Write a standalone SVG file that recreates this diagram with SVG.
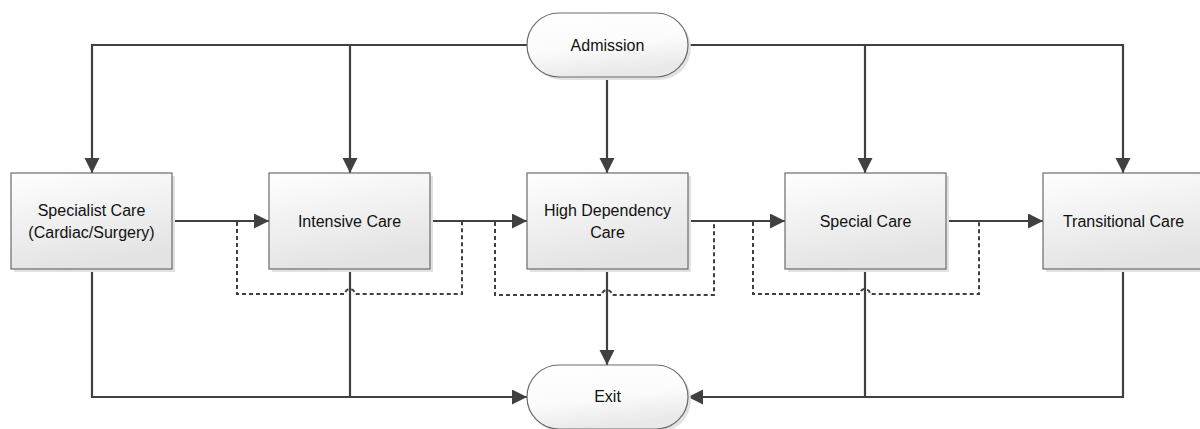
<svg xmlns="http://www.w3.org/2000/svg" width="1200" height="429" viewBox="0 0 1200 429">
<style>
.box{fill:url(#g);stroke:#6b6b6b;stroke-width:1.2}
.term{fill:url(#gt);stroke:#6b6b6b;stroke-width:1.2}
.sh{fill:#e2e2e2}
.t{font-family:"Liberation Sans",Arial,sans-serif;font-size:16px;fill:#111;text-anchor:middle}
.c{fill:none;stroke:#404040;stroke-width:2.2}
.d{fill:none;stroke:#404040;stroke-width:2;stroke-dasharray:4 3}
</style>
<defs>
<linearGradient id="g" x1="0" y1="0" x2="0.3" y2="1">
<stop offset="0" stop-color="#ffffff"/>
<stop offset="1" stop-color="#e3e3e3"/>
</linearGradient>
<linearGradient id="gt" x1="0" y1="0" x2="0.3" y2="1">
<stop offset="0" stop-color="#ffffff"/>
<stop offset="0.6" stop-color="#fbfbfb"/>
<stop offset="1" stop-color="#e9e9e9"/>
</linearGradient>
<marker id="a" markerUnits="userSpaceOnUse" markerWidth="16" markerHeight="16" refX="15" refY="7.5" orient="auto">
<path d="M0,0 L15,7.5 L0,15 z" fill="#404040"/>
</marker>
</defs>
<g id="connectors">
<path class="c" d="M527,45 H92 V173" marker-end="url(#a)"/>
<path class="c" d="M350,45 V173" marker-end="url(#a)"/>
<path class="c" d="M607,77 V173" marker-end="url(#a)"/>
<path class="c" d="M688,45 H1123 V173" marker-end="url(#a)"/>
<path class="c" d="M865,45 V173" marker-end="url(#a)"/>
<path class="c" d="M172,221 H269" marker-end="url(#a)"/>
<path class="c" d="M430,221 H527" marker-end="url(#a)"/>
<path class="c" d="M688,221 H785" marker-end="url(#a)"/>
<path class="c" d="M946,221 H1043" marker-end="url(#a)"/>
<path class="c" d="M92,269 V397 H527" marker-end="url(#a)"/>
<path class="c" d="M350,269 V397"/>
<path class="c" d="M607,269 V365" marker-end="url(#a)"/>
<path class="c" d="M1123,269 V397 H688" marker-end="url(#a)"/>
<path class="c" d="M865,269 V397"/>
<path class="d" d="M237,222 V294 H345 A5,5 0 0 1 355,294 H462 V222"/>
<path class="d" d="M495,222 V295 H602 A5,5 0 0 1 612,295 H714 V222"/>
<path class="d" d="M753,222 V294 H860 A5,5 0 0 1 870,294 H979 V222"/>
</g>
<g id="admission">
<rect class="sh" x="530" y="16" width="161" height="64" rx="32"/>
<rect class="term" x="527" y="13" width="161" height="64" rx="32"/>
<text class="t" x="607.5" y="50.5">Admission</text>
</g>
<g id="exit">
<rect class="sh" x="530" y="368" width="161" height="64" rx="32"/>
<rect class="term" x="527" y="365" width="161" height="64" rx="32"/>
<text class="t" x="607.5" y="402">Exit</text>
</g>
<g id="specialist">
<rect class="sh" x="14" y="176" width="161" height="96"/>
<rect class="box" x="11" y="173" width="161" height="96"/>
<text class="t" x="91.5" y="216">Specialist Care</text>
<text class="t" x="91.5" y="238">(Cardiac/Surgery)</text>
</g>
<g id="intensive">
<rect class="sh" x="272" y="176" width="161" height="96"/>
<rect class="box" x="269" y="173" width="161" height="96"/>
<text class="t" x="349.5" y="226.5">Intensive Care</text>
</g>
<g id="highdep">
<rect class="sh" x="530" y="176" width="161" height="96"/>
<rect class="box" x="527" y="173" width="161" height="96"/>
<text class="t" x="607.5" y="216">High Dependency</text>
<text class="t" x="607.5" y="238">Care</text>
</g>
<g id="special">
<rect class="sh" x="788" y="176" width="161" height="96"/>
<rect class="box" x="785" y="173" width="161" height="96"/>
<text class="t" x="865.5" y="226.5">Special Care</text>
</g>
<g id="transitional">
<rect class="sh" x="1046" y="176" width="161" height="96"/>
<rect class="box" x="1043" y="173" width="161" height="96"/>
<text class="t" x="1123.5" y="226.5">Transitional Care</text>
</g>
</svg>
